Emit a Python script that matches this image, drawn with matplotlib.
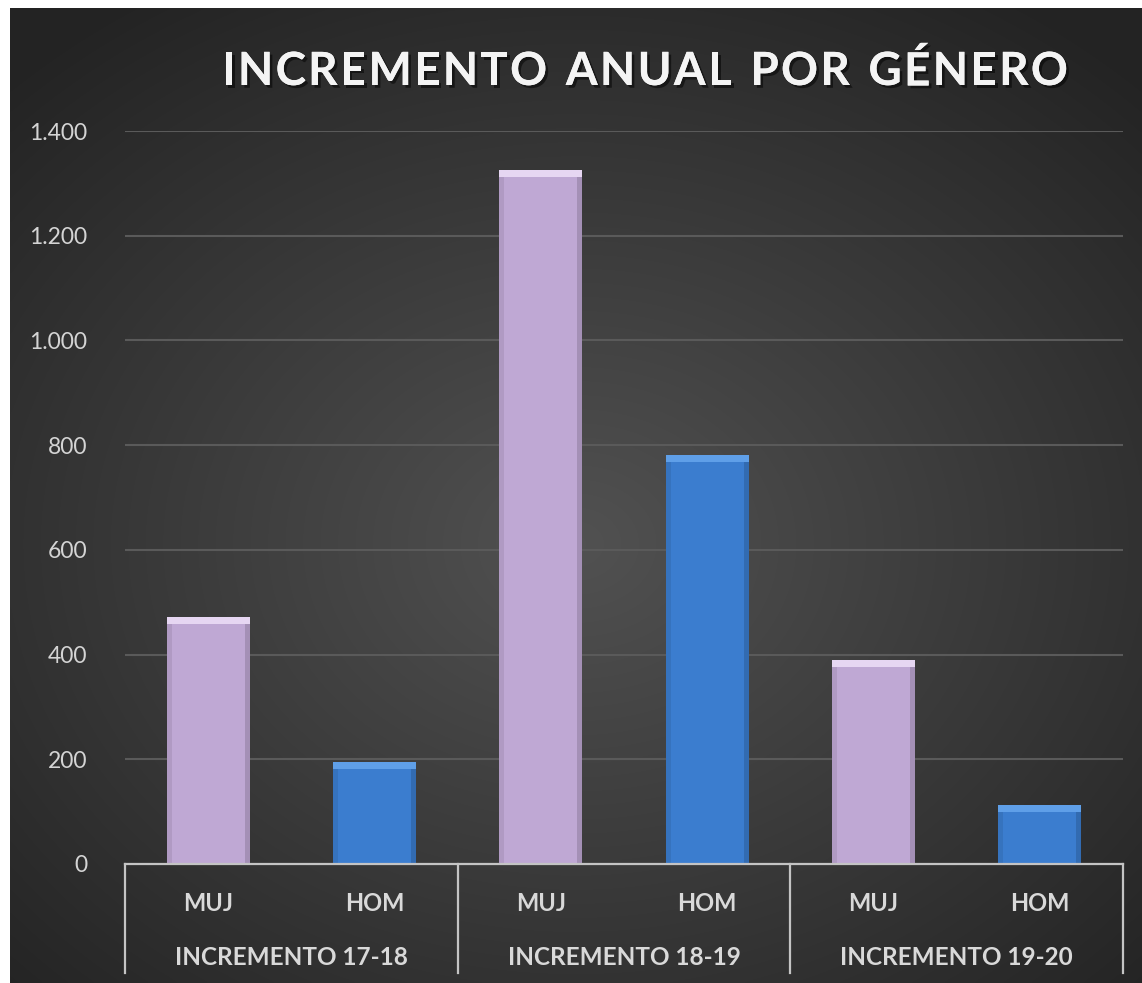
import numpy as np
import matplotlib
matplotlib.use("Agg")
import matplotlib.pyplot as plt
import matplotlib.patheffects as pe
import matplotlib.transforms as mtransforms

plt.rcParams["font.family"] = ["Lato", "DejaVu Sans"]

title = "INCREMENTO ANUAL POR GÉNERO"
groups = ["INCREMENTO 17-18", "INCREMENTO 18-19", "INCREMENTO 19-20"]
genders = ["MUJ", "HOM"]
muj = [472, 1325, 390]
hom = [195, 781, 113]
yticks = [0, 200, 400, 600, 800, 1000, 1200, 1400]
ytick_labels = ["0", "200", "400", "600", "800", "1.000", "1.200", "1.400"]

muj_color = "#bfa8d4"
muj_top = "#e6d6f2"
hom_color = "#3b7dcf"
hom_top = "#5f9fe8"

fig = plt.figure(figsize=(11.42, 9.83), dpi=100)
fig.patch.set_facecolor("white")

# dark radial background panel
bg = fig.add_axes([10 / 1142, 0, 1 - 10 / 1142, 1 - 8 / 983])
yy, xx = np.mgrid[0:1:400j, 0:1:460j]
r = np.sqrt(((xx - 0.5) / 0.75) ** 2 + ((yy - 0.55) / 0.7) ** 2)
shade = np.clip(0.32 - 0.19 * r, 0.14, 0.32)
bg.imshow(np.dstack([shade, shade, shade]), aspect="auto", extent=[0, 1, 0, 1],
          interpolation="bicubic")
bg.set_axis_off()

ax = fig.add_axes([125 / 1142, 1 - 864 / 983, (1123 - 125) / 1142, (864 - 131) / 983])
ax.set_facecolor("none")

values = []
colors = []
tops = []
labels = []
for m, h in zip(muj, hom):
    values += [m, h]
    colors += [muj_color, hom_color]
    tops += [muj_top, hom_top]
    labels += genders
x = np.arange(len(values))
w = 0.5

ax.bar(x, values, width=w, color=colors, zorder=3)
# side shading and top bevel
ax.bar(x - w / 2 + 0.015, values, width=0.03, color="black", alpha=0.08, zorder=4)
ax.bar(x + w / 2 - 0.015, values, width=0.03, color="black", alpha=0.14, zorder=4)
bevel = 13
ax.bar(x, [bevel] * len(values), bottom=[v - bevel for v in values], width=w,
       color=tops, zorder=5)

ax.set_xlim(-0.5, len(values) - 0.5)
ax.set_ylim(0, 1400)
ax.set_yticks(yticks)
ax.set_yticklabels(ytick_labels)
ax.grid(axis="y", color="#5a5a5a", linewidth=1.5, zorder=1)
ax.set_axisbelow(True)

for s in ["top", "right", "left"]:
    ax.spines[s].set_visible(False)
ax.spines["bottom"].set_color("#c4c4c4")
ax.spines["bottom"].set_linewidth(1.6)
ax.spines["bottom"].set_zorder(6)

ax.tick_params(axis="y", length=0, pad=27, labelsize=16.5, labelcolor="#d4d4d4")
ax.set_xticks(x)
ax.set_xticklabels(labels, fontsize=17, fontweight="bold", color="#d9d9d9")
ax.tick_params(axis="x", length=0, pad=20)

trans = mtransforms.blended_transform_factory(ax.transData, ax.transAxes)
for b in [-0.5, 1.5, 3.5, 5.5]:
    ax.plot([b, b], [0, -0.149], transform=trans, color="#c4c4c4", lw=1.6,
            clip_on=False, zorder=6)
for i, g in enumerate(groups):
    ax.text(2 * i + 0.5, -0.127, g, transform=trans, ha="center", va="center",
            fontsize=17.5, fontweight="bold", color="#d9d9d9")

# title with letter spacing
renderer = fig.canvas.get_renderer()
tkw = dict(fontsize=33, fontweight="bold", color="#f4f4f4", va="center", ha="left")
widths = []
for ch in title:
    t = fig.text(0, 0, ch if ch != " " else "n", **tkw)
    widths.append(t.get_window_extent(renderer).width * (0.55 if ch == " " else 1.0))
    t.remove()
target = 846
gap = (target - sum(widths)) / (len(title) - 1)
xpos = 222
for ch, cw in zip(title, widths):
    if ch != " ":
        fig.text(xpos / 1142, 1 - 72 / 983, ch, **tkw,
                 path_effects=[pe.withSimplePatchShadow(offset=(2, -2), shadow_rgbFace="black",
                                                        alpha=0.5), pe.Normal()])
    xpos += cw + gap

fig.savefig("out.png", dpi=100)
